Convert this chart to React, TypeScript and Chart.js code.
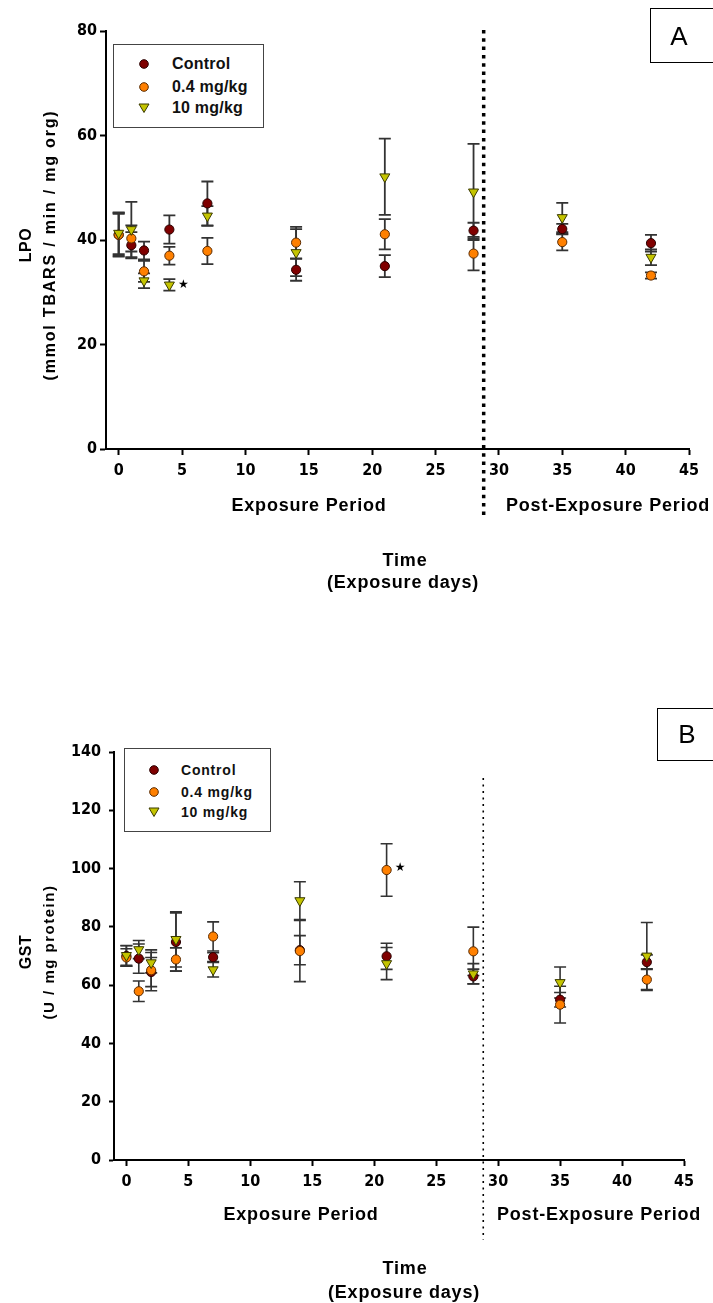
import React, { useEffect, useRef } from "react";
import { Chart, registerables } from "chart.js";

Chart.register(...registerables);

// ---------- data ----------
const DAYS = [0, 1, 2, 4, 7, 14, 21, 28, 35, 42];
const X_TICKS = [0, 5, 10, 15, 20, 25, 30, 35, 40, 45];
const X_MIN = -1;
const X_MAX = 45;
const DIVIDER_DAY = 28.8;
const SERIES_LABELS = ["Control", "0.4 mg/kg", "10 mg/kg"];

const LPO_TICKS = [0, 20, 40, 60, 80];
const LPO_CONTROL = [41.0, 39.0, 38.0, 42.0, 47.0, 34.3, 35.0, 41.8, 42.1, 39.4];
const LPO_CONTROL_ERR = [4.2, 2.5, 1.7, 2.7, 4.2, 2.1, 2.1, 1.5, 1.0, 1.6];
const LPO_LOW = [41.0, 40.3, 34.0, 37.0, 37.9, 39.5, 41.1, 37.4, 39.6, 33.2];
const LPO_LOW_ERR = [4.0, 2.5, 2.0, 1.7, 2.5, 3.0, 2.9, 3.2, 1.6, 0.6];
const LPO_HIGH = [41.3, 42.0, 32.2, 31.4, 44.6, 37.6, 52.1, 49.2, 44.3, 36.7];
const LPO_HIGH_ERR = [4.0, 5.3, 1.4, 1.1, 1.9, 4.5, 7.3, 9.2, 2.8, 1.5];
const LPO_STAR_X = [5.1];
const LPO_STAR_Y = [31.4];

const GST_TICKS = [0, 20, 40, 60, 80, 100, 120, 140];
const GST_CONTROL = [70.0, 69.1, 64.5, 74.8, 69.6, 72.0, 69.9, 63.0, 55.0, 67.9];
const GST_CONTROL_ERR = [3.5, 5.0, 5.0, 10.0, 1.5, 5.0, 4.5, 2.5, 2.5, 2.5];
const GST_LOW = [69.5, 57.9, 65.1, 68.8, 76.7, 71.7, 99.5, 71.6, 53.3, 61.9];
const GST_LOW_ERR = [3.0, 3.5, 7.0, 4.0, 5.0, 10.5, 9.0, 8.3, 6.3, 3.7];
const GST_HIGH = [70.2, 72.2, 67.7, 75.7, 65.3, 89.0, 67.4, 63.9, 60.9, 70.0];
const GST_HIGH_ERR = [3.4, 3.1, 3.5, 9.5, 2.5, 6.5, 5.5, 3.5, 5.3, 11.5];
const GST_STAR_X = [22.1];
const GST_STAR_Y = [100.4];

// ---------- styles ----------
const FONT = "'Liberation Sans', Arial, Helvetica, sans-serif";
const TICK_FONT = "'Liberation Sans Narrow', 'Arial Narrow', 'DejaVu Sans Condensed', 'Liberation Sans', sans-serif";
const COLORS = ["#7f0000", "#ff8000", "#c4c400"];
const BORDERS = ["#2a0000", "#5a2a00", "#3a3a00"];

function errorBarPlugin(width: number, cap: number) {
  return {
    id: "errorBars",
    beforeDatasetsDraw(chart: any) {
      const { ctx } = chart;
      const ys = chart.scales.y;
      ctx.save();
      ctx.strokeStyle = "#333333";
      ctx.lineWidth = width;
      chart.data.datasets.forEach((ds: any, di: number) => {
        const meta = chart.getDatasetMeta(di);
        meta.data.forEach((el: any, i: number) => {
          const v = ds.data[i].y;
          const e = ds.errors[i];
          const x = el.x;
          const y1 = ys.getPixelForValue(v - e);
          const y2 = ys.getPixelForValue(v + e);
          ctx.beginPath();
          ctx.moveTo(x, y1);
          ctx.lineTo(x, y2);
          ctx.moveTo(x - cap, y1);
          ctx.lineTo(x + cap, y1);
          ctx.moveTo(x - cap, y2);
          ctx.lineTo(x + cap, y2);
          ctx.stroke();
        });
      });
      ctx.restore();
    },
  };
}

function dividerPlugin(day: number, above: number, below: number, width: number, dash: number[]) {
  return {
    id: "divider",
    afterDraw(chart: any) {
      const { ctx, chartArea } = chart;
      const x = chart.scales.x.getPixelForValue(day);
      ctx.save();
      ctx.strokeStyle = "#000";
      ctx.lineWidth = width;
      ctx.setLineDash(dash);
      ctx.beginPath();
      ctx.moveTo(x, chartArea.top - above);
      ctx.lineTo(x, chartArea.bottom + below);
      ctx.stroke();
      ctx.restore();
    },
  };
}

function starPlugin(xs: number[], ys: number[]) {
  return {
    id: "stars",
    afterDatasetsDraw(chart: any) {
      const { ctx } = chart;
      ctx.save();
      ctx.fillStyle = "#000";
      ctx.font = "12px 'DejaVu Sans', sans-serif";
      ctx.textAlign = "center";
      ctx.textBaseline = "middle";
      xs.forEach((xv, i) => {
        ctx.fillText("\u2605", chart.scales.x.getPixelForValue(xv), chart.scales.y.getPixelForValue(ys[i]));
      });
      ctx.restore();
    },
  };
}

type PanelCfg = {
  top: number;
  height: number;
  left: number;
  right: number;
  padTop: number;
  xHeight: number;
  yTicks: number[];
  values: number[][];
  errors: number[][];
  starX: number[];
  starY: number[];
  tickPadY: number;
  tickLenY: number;
  errWidth: number;
  dividerAbove: number;
  dividerBelow: number;
  dividerWidth: number;
  dividerDash: number[];
};

function ChartPanel({ cfg }: { cfg: PanelCfg }) {
  const ref = useRef<HTMLCanvasElement | null>(null);
  useEffect(() => {
    if (!ref.current) return;
    const datasets = cfg.values.map((vals, si) => ({
      label: SERIES_LABELS[si],
      data: DAYS.map((d, i) => ({ x: d, y: vals[i] })),
      errors: cfg.errors[si],
      pointStyle: si === 2 ? "triangle" : "circle",
      rotation: si === 2 ? 180 : 0,
      pointRadius: si === 2 ? 5.8 : 4.6,
      backgroundColor: COLORS[si],
      borderColor: BORDERS[si],
      borderWidth: 1,
      showLine: false,
      order: 2 - si,
    }));
    const yMax = cfg.yTicks[cfg.yTicks.length - 1];
    const chart = new Chart(ref.current, {
      type: "scatter",
      data: { datasets: datasets as any },
      options: {
        animation: false,
        responsive: false,
        maintainAspectRatio: false,
        layout: { padding: { left: 0, right: cfg.right, top: cfg.padTop, bottom: 0 } },
        plugins: { legend: { display: false }, tooltip: { enabled: false } },
        scales: {
          x: {
            type: "linear",
            min: X_MIN,
            max: X_MAX,
            afterBuildTicks: (s: any) => {
              s.ticks = X_TICKS.map((v) => ({ value: v }));
            },
            afterFit: (s: any) => {
              s.height = cfg.xHeight;
            },
            grid: { display: true, drawOnChartArea: false, drawTicks: true, tickLength: 6, tickWidth: 2, tickColor: "#000" },
            border: { display: true, color: "#000", width: 2 },
            ticks: { color: "#000", font: { family: TICK_FONT, size: 16, weight: "bold" }, padding: 6, maxRotation: 0, autoSkip: false },
          },
          y: {
            type: "linear",
            min: 0,
            max: yMax,
            afterBuildTicks: (s: any) => {
              s.ticks = cfg.yTicks.map((v) => ({ value: v }));
            },
            afterFit: (s: any) => {
              s.width = cfg.left;
            },
            grid: { display: true, drawOnChartArea: false, drawTicks: true, tickLength: cfg.tickLenY, tickWidth: 2, tickColor: "#000" },
            border: { display: true, color: "#000", width: 2 },
            ticks: { color: "#000", font: { family: TICK_FONT, size: 16, weight: "bold" }, padding: cfg.tickPadY, autoSkip: false },
          },
        },
      } as any,
      plugins: [
        errorBarPlugin(cfg.errWidth, 6),
        dividerPlugin(DIVIDER_DAY, cfg.dividerAbove, cfg.dividerBelow, cfg.dividerWidth, cfg.dividerDash),
        starPlugin(cfg.starX, cfg.starY),
      ],
    });
    return () => chart.destroy();
  }, [cfg]);
  return (
    <canvas
      ref={ref}
      width={713}
      height={cfg.height}
      style={{ position: "absolute", left: 0, top: cfg.top, width: 713, height: cfg.height }}
    />
  );
}

const PANEL_A: PanelCfg = {
  top: 0,
  height: 650,
  left: 106,
  right: 24,
  padTop: 31,
  xHeight: 201,
  yTicks: LPO_TICKS,
  values: [LPO_CONTROL, LPO_LOW, LPO_HIGH],
  errors: [LPO_CONTROL_ERR, LPO_LOW_ERR, LPO_HIGH_ERR],
  starX: LPO_STAR_X,
  starY: LPO_STAR_Y,
  tickPadY: 3,
  tickLenY: 6,
  errWidth: 1.8,
  dividerAbove: 1,
  dividerBelow: 66,
  dividerWidth: 3.5,
  dividerDash: [3.5, 4.8],
};

const PANEL_B: PanelCfg = {
  top: 650,
  height: 653,
  left: 114,
  right: 29,
  padTop: 102,
  xHeight: 143,
  yTicks: GST_TICKS,
  values: [GST_CONTROL, GST_LOW, GST_HIGH],
  errors: [GST_CONTROL_ERR, GST_LOW_ERR, GST_HIGH_ERR],
  starX: GST_STAR_X,
  starY: GST_STAR_Y,
  tickPadY: 8,
  tickLenY: 5,
  errWidth: 1.6,
  dividerAbove: -26,
  dividerBelow: 80,
  dividerWidth: 1.6,
  dividerDash: [2, 4.5],
};

function Txt(props: { x: number; y: number; text: string; size: number; spacing?: number; rotate?: boolean; weight?: string }) {
  const { x, y, text, size, spacing = 0, rotate = false, weight = "bold" } = props;
  return (
    <div
      style={{
        position: "absolute",
        left: x,
        top: y,
        transform: `translate(-50%, -50%)${rotate ? " rotate(-90deg)" : ""}`,
        fontFamily: FONT,
        fontSize: size,
        fontWeight: weight as any,
        letterSpacing: spacing,
        whiteSpace: "nowrap",
        color: "#000",
        lineHeight: 1,
      }}
    >
      {text}
    </div>
  );
}

function Marker({ kind }: { kind: number }) {
  if (kind === 2) {
    return (
      <svg width="12" height="12" viewBox="0 0 12 12" style={{ display: "block" }}>
        <polygon points="1,2 11,2 6,10.5" fill={COLORS[2]} stroke={BORDERS[2]} strokeWidth="1" />
      </svg>
    );
  }
  return (
    <svg width="12" height="12" viewBox="0 0 12 12" style={{ display: "block" }}>
      <circle cx="6" cy="6" r="4.3" fill={COLORS[kind]} stroke={BORDERS[kind]} strokeWidth="1" />
    </svg>
  );
}

function Legend(props: { left: number; top: number; w: number; h: number; rows: number[]; mx: number; tx: number; size: number; spacing: number }) {
  const { left, top, w, h, rows, mx, tx, size, spacing } = props;
  return (
    <div style={{ position: "absolute", left, top, width: w, height: h, border: "1.5px solid #444", boxSizing: "border-box", background: "#fff" }}>
      {SERIES_LABELS.map((lab, i) => (
        <React.Fragment key={lab}>
          <div style={{ position: "absolute", left: mx - 6, top: rows[i] - 6 }}>
            <Marker kind={i} />
          </div>
          <div
            style={{
              position: "absolute",
              left: tx,
              top: rows[i],
              transform: "translateY(-50%)",
              fontFamily: FONT,
              fontSize: size,
              fontWeight: "bold",
              letterSpacing: spacing,
              color: "#111",
              whiteSpace: "nowrap",
              lineHeight: 1,
            }}
          >
            {lab}
          </div>
        </React.Fragment>
      ))}
    </div>
  );
}

function LetterBox(props: { left: number; top: number; h: number; letter: string; cx: number; cy: number }) {
  const { left, top, h, letter, cx, cy } = props;
  return (
    <>
      <div style={{ position: "absolute", left, top, width: 100, height: h, border: "1.5px solid #000", boxSizing: "border-box" }} />
      <Txt x={cx} y={cy} text={letter} size={26} weight="normal" />
    </>
  );
}

export default function App() {
  return (
    <div style={{ position: "absolute", left: 0, top: 0, width: 713, height: 1303, overflow: "hidden", background: "#fff" }}>
      <ChartPanel cfg={PANEL_A} />
      <ChartPanel cfg={PANEL_B} />

      {/* Panel A annotations */}
      <LetterBox left={650} top={8} h={55} letter="A" cx={679} cy={36} />
      <Legend left={113} top={44} w={151} h={84} rows={[19, 42, 63]} mx={30} tx={58} size={16} spacing={0.2} />
      <Txt x={26} y={245} text="LPO" size={16} spacing={0.5} rotate />
      <Txt x={50} y={245} text="(mmol TBARS / min / mg org)" size={16} spacing={1.8} rotate />
      <Txt x={309} y={505} text="Exposure Period" size={18} spacing={0.8} />
      <Txt x={608} y={505} text="Post-Exposure Period" size={18} spacing={0.8} />
      <Txt x={405} y={560} text="Time" size={18} spacing={0.8} />
      <Txt x={403} y={582} text="(Exposure days)" size={18} spacing={0.8} />

      {/* Panel B annotations */}
      <LetterBox left={657} top={708} h={53} letter="B" cx={687} cy={734} />
      <Legend left={124} top={748} w={147} h={84} rows={[21, 43, 63]} mx={29} tx={56} size={14} spacing={0.8} />
      <Txt x={26} y={952} text="GST" size={16} spacing={0.5} rotate />
      <Txt x={48} y={952} text="(U / mg protein)" size={15} spacing={1.5} rotate />
      <Txt x={301} y={1214} text="Exposure Period" size={18} spacing={0.8} />
      <Txt x={599} y={1214} text="Post-Exposure Period" size={18} spacing={0.8} />
      <Txt x={405} y={1268} text="Time" size={18} spacing={0.8} />
      <Txt x={404} y={1292} text="(Exposure days)" size={18} spacing={0.8} />
    </div>
  );
}
